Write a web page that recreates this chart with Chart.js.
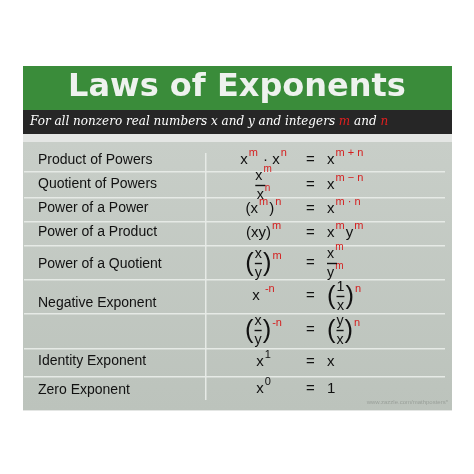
<!DOCTYPE html>
<html>
<head>
<meta charset="utf-8">
<script src="https://cdn.jsdelivr.net/npm/chart.js@4.4.0/dist/chart.umd.min.js"></script>
<style>
  html, body { margin: 0; padding: 0; background: #fff; }
  #wrap { width: 474px; height: 474px; }
</style>
</head>
<body>
<div id="wrap"><canvas id="lawsChart"></canvas></div>
<script>
// law names, one per row (empty = continuation row)
const lawNames = ['Product of Powers', 'Quotient of Powers', 'Power of a Power', 'Power of a Product',
    'Power of a Quotient', 'Negative Exponent', '', 'Identity Exponent', 'Zero Exponent'];
// row centres and separators in poster units (0..474 from top)
const rowCenters = [160, 185, 209, 233, 263, 296, 330, 362, 389];
const nameCenters = [160, 184, 208, 232, 264, 303, 330, 361, 390];
const rowLines = [172, 198, 222, 246, 280, 314, 349, 377];
// formulas: string = plain, [s] = red superscript, {s} = black superscript, {f:[num, den]} = fraction, {p:[...]} = big parens
const leftSides = [
    ['x', ['m'], ' · ', 'x', ['n']],
    [{ f: [['x', ['m']], ['x', ['n']]] }],
    ['(', 'x', ['m'], ')', ['n']],
    ['(xy)', ['m']],
    [{ p: [{ f: [['x'], ['y']] }] }, ['m']],
    ['x ', ['-n']],
    [{ p: [{ f: [['x'], ['y']] }] }, ['-n']],
    ['x', { s: '1' }],
    ['x', { s: '0' }],
];
const rightSides = [
    ['x', ['m + n']],
    ['x', ['m − n']],
    ['x', ['m · n']],
    ['x', ['m'], 'y', ['m']],
    [{ f: [['x', ['m']], ['y', ['m']]] }],
    [{ p: [{ f: [['1'], ['x']] }] }, ['n']],
    [{ p: [{ f: [['y'], ['x']] }] }, ['n']],
    ['x'],
    ['1'],
];
const titleText = 'Laws of Exponents';
const subtitleParts = [['For all nonzero real numbers x and y and integers ', '#fff'], ['m', '#e02020'], [' and ', '#fff'], ['n', '#e02020']];

const FONT = '"Liberation Sans", Arial, sans-serif';
const RED = '#d42020';

function drawTokens(ctx, tokens, x, y, size, draw) {
    let cx = x;
    tokens.forEach((tk) => {
        if (typeof tk === 'string') {
            ctx.font = `${size}px ${FONT}`;
            ctx.fillStyle = '#111';
            if (draw) ctx.fillText(tk, cx, y);
            cx += ctx.measureText(tk).width;
        } else if (Array.isArray(tk) || tk.s) {
            const txt = Array.isArray(tk) ? tk[0] : tk.s;
            ctx.font = `${Math.round(size * 0.7)}px ${FONT}`;
            ctx.fillStyle = Array.isArray(tk) ? RED : '#111';
            if (draw) ctx.fillText(txt, cx + 1, y - size * 0.5);
            cx += ctx.measureText(txt).width + 2;
        } else if (tk.f) {
            const fs = size * 0.95;
            const wn = drawTokens(ctx, tk.f[0], 0, 0, fs, false);
            const wd = drawTokens(ctx, tk.f[1], 0, 0, fs, false);
            const w = Math.max(wn, wd);
            if (draw) {
                drawTokens(ctx, tk.f[0], cx + (w - wn) / 2, y - fs * 0.62, fs, true);
                drawTokens(ctx, tk.f[1], cx + (w - wd) / 2, y + fs * 0.72, fs, true);
                ctx.fillStyle = '#111';
                ctx.fillRect(cx, y - 0.2, Math.min(w, fs * 0.7), 1.4);
            }
            cx += w;
        } else if (tk.p) {
            ctx.font = `${size * 1.7}px ${FONT}`;
            ctx.fillStyle = '#111';
            const pw = ctx.measureText('(').width;
            if (draw) ctx.fillText('(', cx, y + 1);
            cx += pw + 1;
            cx += drawTokens(ctx, tk.p, cx, y, size, draw) + 1;
            ctx.font = `${size * 1.7}px ${FONT}`;
            ctx.fillStyle = '#111';
            if (draw) ctx.fillText(')', cx, y + 1);
            cx += pw;
        }
    });
    return cx - x;
}

const posterPlugin = {
    id: 'poster',
    beforeDatasetsDraw(chart) {
        const { ctx, scales: { x, y } } = chart;
        const px = (v) => x.getPixelForValue(v);
        const py = (v) => y.getPixelForValue(v);
        ctx.save();
        // panels
        ctx.fillStyle = '#e4e6e4';
        ctx.fillRect(px(23), py(66), px(452) - px(23), py(411) - py(66));
        const g = ctx.createLinearGradient(0, py(142), 0, py(410));
        g.addColorStop(0, '#c8cec8');
        g.addColorStop(1, '#bcc3bc');
        ctx.fillStyle = g;
        ctx.fillRect(px(23), py(142), px(452) - px(23), py(410) - py(142));
        ctx.fillStyle = '#3a8c3a';
        ctx.fillRect(px(23), py(66), px(452) - px(23), py(110) - py(66));
        ctx.fillStyle = '#262626';
        ctx.fillRect(px(23), py(110), px(452) - px(23), py(134) - py(110));
        // title
        ctx.font = `bold 32px "DejaVu Sans", Verdana, sans-serif`;
        ctx.textAlign = 'center';
        ctx.textBaseline = 'middle';
        ctx.fillStyle = '#eef2ee';
        ctx.fillText(titleText, px(237), py(88));
        // subtitle
        ctx.textAlign = 'left';
        ctx.font = `italic 12px "DejaVu Serif", serif`;
        let sx = px(30);
        subtitleParts.forEach(([t, c]) => {
            ctx.fillStyle = c;
            ctx.fillText(t, sx, py(122));
            sx += ctx.measureText(t).width;
        });
        // row separators and column divider
        ctx.fillStyle = '#e6eae6';
        rowLines.forEach((v) => ctx.fillRect(px(24), py(v) - 1, px(445) - px(24), 1.5));
        ctx.fillRect(px(205), py(153), 1.5, py(400) - py(153));
        // watermark
        ctx.font = `6px ${FONT}`;
        ctx.textAlign = 'right';
        ctx.fillStyle = '#9aa09a';
        ctx.fillText('www.zazzle.com/mathposters*', px(448), py(402));
        ctx.restore();
    },
    afterDatasetsDraw(chart) {
        const { ctx, scales: { x, y } } = chart;
        const meta = chart.getDatasetMeta(0);
        ctx.save();
        ctx.textBaseline = 'middle';
        ctx.textAlign = 'left';
        lawNames.forEach((name, i) => {
            ctx.font = `14px ${FONT}`;
            ctx.fillStyle = '#111';
            ctx.fillText(name, x.getPixelForValue(38), y.getPixelForValue(nameCenters[i]));
        });
        meta.data.forEach((pt, i) => {
            const cy = pt.y;
            const lw = drawTokens(ctx, leftSides[i], 0, 0, 15, false);
            drawTokens(ctx, leftSides[i], x.getPixelForValue(264) - lw / 2, cy, 15, true);
            ctx.font = `15px ${FONT}`;
            ctx.fillStyle = '#111';
            ctx.fillText('=', x.getPixelForValue(306), cy);
            drawTokens(ctx, rightSides[i], x.getPixelForValue(327), cy, 15, true);
        });
        ctx.restore();
    },
};

new Chart(document.getElementById('lawsChart'), {
    type: 'scatter',
    data: {
        datasets: [{
            data: rowCenters.map((v) => ({ x: 264, y: v })),
            pointRadius: 0,
        }],
    },
    options: {
        responsive: true,
        maintainAspectRatio: false,
        animation: false,
        layout: { padding: 0 },
        scales: {
            x: { type: 'linear', min: 0, max: 474, display: false },
            y: { type: 'linear', min: 0, max: 474, reverse: true, display: false },
        },
        plugins: { legend: { display: false }, tooltip: { enabled: false } },
    },
    plugins: [posterPlugin],
});
</script>
</body>
</html>
